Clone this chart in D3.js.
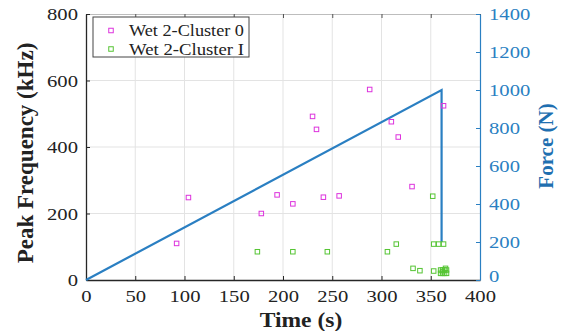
<!DOCTYPE html>
<html><head><meta charset="utf-8">
<script src="https://cdn.jsdelivr.net/npm/d3@7"></script>
<style>body{margin:0;background:#fff}svg{display:block}text{font-family:"Liberation Serif","Times New Roman",serif}</style>
</head><body><svg id="c" width="566" height="331"></svg>
<script>
const xTicks=[0,50,100,150,200,250,300,350,400];
const leftTicks=[0,200,400,600,800];
const rightTicks=[0,200,400,600,800,1000,1200,1400];
const c0Time=[92,104,178,194,210,230,234,241,257,288,310,317,331,363];
const c0Freq=[110,248,200,256,229,492,453,249,253,573,476,430,281,524];
const c1Time=[174,210,245,306,315,352,353,358,363,332,339,353,360,362,364,366,360,362,364,366,362,365];
const c1Freq=[85,85,85,85,108,252,108,108,108,35,28,27,20,20,20,20,30,30,30,30,25,35];
const forceTime=[0,361,361];
const forceVal=[0,1000,200];
const legendLabels=["Wet 2-Cluster 0","Wet 2-Cluster I"];
const colors={c0:"#dd33dd",c1:"#55c433",force:"#2a7fc2",axis:"#262626",rightAxis:"#2a7fc2",grid:"#e3e3e3"};

const svg=d3.select("#c");
const L=86,R=480,T=14,B=280;
const x=d3.scaleLinear().domain([0,400]).range([L,R]);
const yL=d3.scaleLinear().domain([0,800]).range([B,T]);
const yR=d3.scaleLinear().domain([0,1400]).range([B,T]);

function stretch(sel,k){sel.each(function(){const w=this.getComputedTextLength();d3.select(this).attr("textLength",w*k).attr("lengthAdjust","spacingAndGlyphs");});}

// grid
svg.append("g").selectAll("line").data(xTicks.slice(1,-1)).join("line")
 .attr("x1",d=>x(d)).attr("x2",d=>x(d)).attr("y1",T).attr("y2",B).attr("stroke",colors.grid);
svg.append("g").selectAll("line").data(leftTicks.slice(1,-1)).join("line")
 .attr("y1",d=>yL(d)).attr("y2",d=>yL(d)).attr("x1",L).attr("x2",R).attr("stroke",colors.grid);

// axes
const fs=17.5;
const gx=svg.append("g").attr("transform",`translate(0,${B})`).call(d3.axisBottom(x).tickValues(xTicks).tickSizeInner(-4).tickSizeOuter(0).tickPadding(10));
const gxt=svg.append("g").attr("transform",`translate(0,${T})`).call(d3.axisTop(x).tickValues(xTicks).tickSizeInner(-4).tickSizeOuter(0).tickFormat(""));
gxt.select(".domain").attr("stroke","#bdbdbd");gxt.selectAll(".tick line").attr("stroke","#555");
const gl=svg.append("g").attr("transform",`translate(${L},0)`).call(d3.axisLeft(yL).tickValues(leftTicks).tickSizeInner(-4).tickSizeOuter(0).tickPadding(8));
const gr=svg.append("g").attr("transform",`translate(${R},0)`).call(d3.axisRight(yR).tickValues(rightTicks).tickFormat(d3.format("d")).tickSizeInner(-4).tickSizeOuter(0).tickPadding(9));
[gx,gl,gr].forEach(g=>g.attr("font-family",null));
[gx,gl].forEach(g=>{g.select(".domain").attr("stroke",colors.axis).attr("stroke-width",1.3);g.selectAll(".tick line").attr("stroke",colors.axis);
 g.selectAll("text").attr("font-size",fs).attr("fill","#222");});
gr.select(".domain").attr("stroke",colors.rightAxis).attr("stroke-width",1.2);
gr.selectAll(".tick line").attr("stroke",colors.rightAxis);
gr.selectAll("text").attr("font-size",fs).attr("fill",colors.rightAxis);
gr.selectAll(".tick").filter(d=>d===0).select("text").attr("dy","0.1em");
[gx,gl,gr].forEach(g=>stretch(g.selectAll("text"),1.18));

// force line
const line=d3.line().x((d,i)=>x(forceTime[i])).y((d,i)=>yR(forceVal[i]));
svg.append("path").attr("d",line(forceVal)).attr("fill","none").attr("stroke",colors.force).attr("stroke-width",2.2);

// scatter
const s=4.5;
function sq(g,t,f,col){g.selectAll("rect").data(t).join("rect")
 .attr("x",(d)=>x(d)-s/2).attr("y",(d,i)=>yL(f[i])-s/2).attr("width",s).attr("height",s)
 .attr("fill","none").attr("stroke",col).attr("stroke-width",1);}
sq(svg.append("g"),c0Time,c0Freq,colors.c0);
sq(svg.append("g"),c1Time,c1Freq,colors.c1);

// legend
const lg=svg.append("g");
lg.append("rect").attr("x",93).attr("y",17).attr("width",156).attr("height",40).attr("fill","#fff").attr("stroke","#444").attr("stroke-width",1);
[colors.c0,colors.c1].forEach((col,i)=>{
 const yy=30.5+i*18.5;
 lg.append("rect").attr("x",111-s/2).attr("y",yy-s/2).attr("width",s).attr("height",s).attr("fill","none").attr("stroke",col);
 const t=lg.append("text").attr("x",129).attr("y",yy).attr("dy","0.35em").attr("font-size",16.5).attr("fill","#222").text(legendLabels[i]);
 t.attr("textLength",115).attr("lengthAdjust","spacingAndGlyphs");
});

// titles
const tt=svg.append("text").attr("x",(L+R)/2+18).attr("y",327).attr("text-anchor","middle").attr("font-size",21).attr("font-weight","bold").attr("fill","#222").text("Time (s)");
stretch(tt,1.12);
svg.append("text").attr("transform",`translate(33,${(T+B)/2+6}) rotate(-90)`).attr("text-anchor","middle").attr("font-size",23).attr("font-weight","bold").attr("fill","#222").text("Peak Frequency (kHz)");
svg.append("text").attr("transform",`translate(553,146) rotate(-90)`).attr("text-anchor","middle").attr("font-size",21).attr("font-weight","bold").attr("fill","#1f6fb0").text("Force (N)");
</script></body></html>
